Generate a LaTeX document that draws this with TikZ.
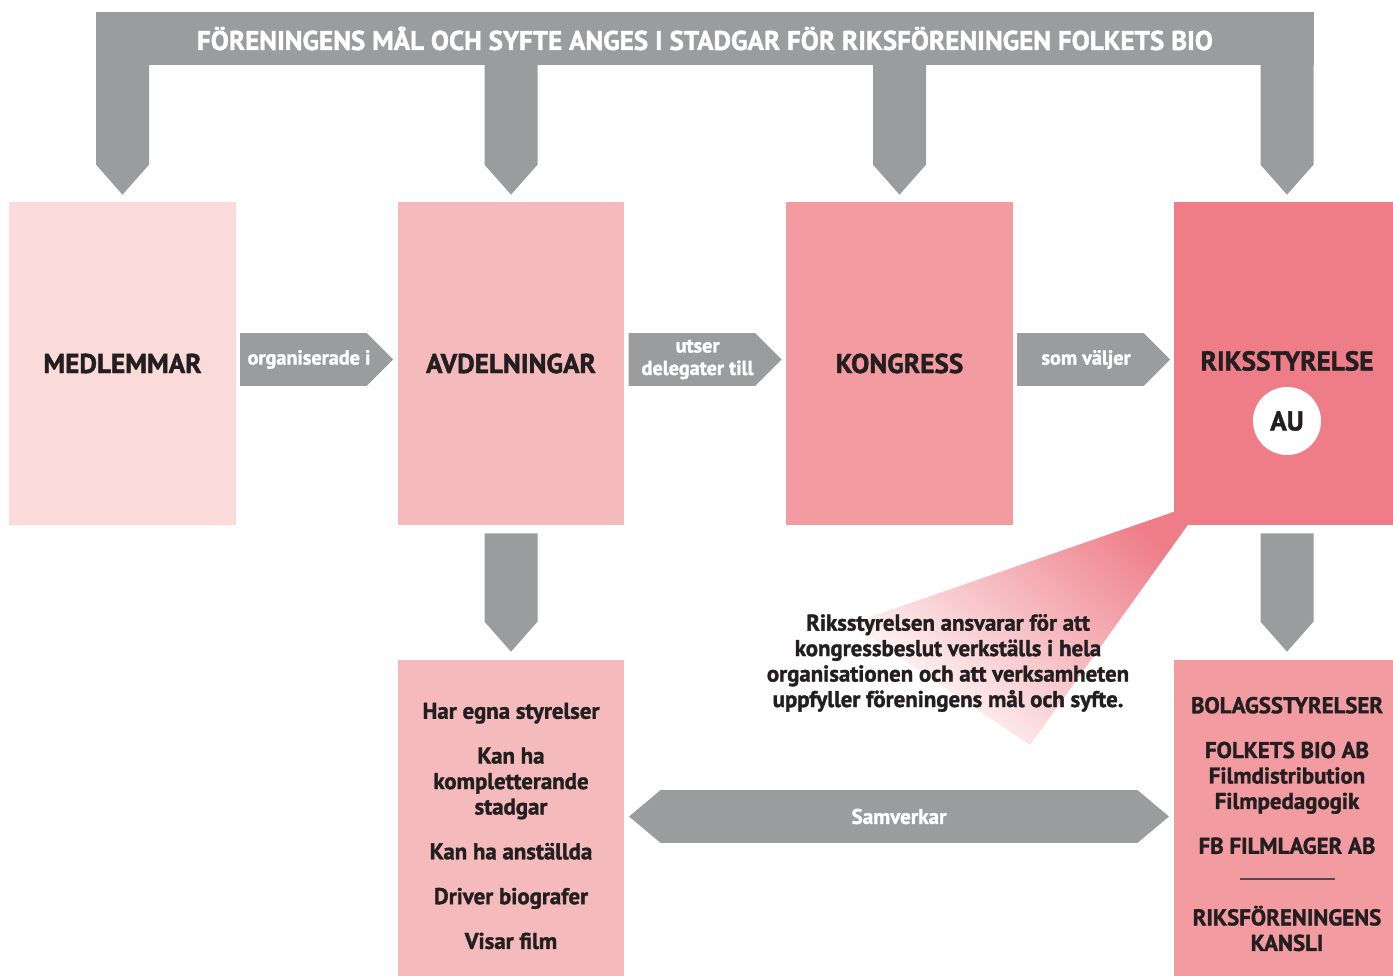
\documentclass[tikz,border=0pt]{standalone}
\usepackage{fontspec}
\setmainfont{PT Sans}[BoldFeatures={FakeBold=1.5}]
\usetikzlibrary{shapes.arrows,calc}
\definecolor{barGray}{HTML}{9B9C9E}
\definecolor{inkDark}{HTML}{231F20}
\definecolor{pinkA}{HTML}{FADBDA}
\definecolor{pinkB}{HTML}{F5BBBC}
\definecolor{pinkC}{HTML}{F29CA1}
\definecolor{pinkD}{HTML}{EE7D88}
\tikzset{
  box/.style={rectangle,minimum width=4.54cm,minimum height=6.46cm,inner sep=0pt,text=inkDark,font=\bfseries\fontsize{15.5}{17}\selectfont},
  lowbox/.style={rectangle,minimum width=4.54cm,minimum height=6.6cm,inner sep=0pt},
  body/.style={text=inkDark,align=center,inner sep=0pt,font=\bfseries\fontsize{13}{14.5}\selectfont},
  flow/.style={single arrow,single arrow head extend=0pt,single arrow tip angle=90,minimum height=3.06cm,minimum width=1.06cm,inner sep=0pt,fill=barGray,anchor=tail},
  flowtext/.style={inner sep=0pt,text=white,align=center,font=\bfseries\fontsize{11.5}{12.8}\selectfont},
}
\begin{document}
\begin{tikzpicture}[x=0.02cm,y=-0.02cm]
\useasboundingbox (0,0) rectangle (1393,976);
\node[fill=barGray,minimum width=24.36cm,minimum height=1.06cm,inner sep=0pt,text=white,font=\bfseries\fontsize{15.4}{17}\selectfont,name=bar] at (705,38.5){FÖRENINGENS MÅL OCH SYFTE ANGES I STADGAR FÖR RIKSFÖRENINGEN FOLKETS BIO};
\shade[top color=pinkD,bottom color=white,shading angle=-42] (1205,501) -- (850,624) -- (1030,745) -- cycle;
\foreach \n/\c/\x/\t in {medl/pinkA/122.5/MEDLEMMAR,avd/pinkB/511/AVDELNINGAR,kong/pinkC/899.5/KONGRESS,riks/pinkD/1287/{}}{
	\node[box,fill=\c,name=\n] at (\x,363.5){\t};
	\fill[barGray] ($(\n.north |- bar.south)+(-26.5,-2)$) -- ($(\n.north |- bar.south)+(26.5,-2)$) -- ($(\n.north)+(26.5,-37)$) -- ($(\n.north)+(0,-7)$) -- ($(\n.north)+(-26.5,-37)$) -- cycle;
};
\node[box,name=rikstext] at ($(riks.center)+(0,-2.5)$){RIKSSTYRELSE};
\node[circle,fill=white,minimum size=1.36cm,inner sep=0pt,text=inkDark,font=\bfseries\fontsize{15.5}{17}\selectfont,name=au] at ($(riks.center)+(0,57.5)$){AU};
\foreach \a/\n/\t in {medl/org/{organiserade i},avd/utser/{utser\\delegater till},kong/val/{som väljer}}{
	\node[flow,name=\n] at ($(\a.east)+(3.5,-4)$){};
	\node[flowtext] at ($(\n.tail)!0.45!(\n.tip)$){\t};
};
\node[lowbox,fill=pinkB,name=avdl] at (511,825){};
\node[lowbox,fill=pinkC,name=riksl] at (1287,825){};
\foreach \a/\b in {avd/avdl,riks/riksl}{
	\fill[barGray] ($(\a.south)+(-26.5,8)$) -- ($(\a.south)+(26.5,8)$) -- ($(\b.north)+(26.5,-38)$) -- ($(\b.north)+(0,-8)$) -- ($(\b.north)+(-26.5,-38)$) -- cycle;
};
\node[double arrow,double arrow head extend=0pt,double arrow tip angle=80,minimum height=10.8cm,minimum width=1.06cm,inner sep=0pt,fill=barGray,text=white,font=\bfseries\fontsize{12}{13}\selectfont,name=samv] at ($(avdl.east)!0.5!(riksl.west)+(0,-8.5)$){Samverkar};
\node[body,name=ansvar] at (948,663){Riksstyrelsen ansvarar för att\\kongressbeslut verkställs i hela\\organisationen och att verksamheten\\uppfyller föreningens mål och syfte.};
\node[body,name=avdtext] at (511,826){Har egna styrelser\\[11pt]Kan ha\\kompletterande\\stadgar\\[11pt]Kan ha anställda\\[11pt]Driver biografer\\[11pt]Visar film};
\node[body,name=bolag] at (1287,775.5){BOLAGSSTYRELSER\\[11pt]FOLKETS BIO AB\\Filmdistribution\\Filmpedagogik\\[11pt]FB FILMLAGER AB};
\draw[inkDark!80,line width=1pt] (1240,879) -- (1335,879);
\node[body,name=kansli] at (1287,928.5){RIKSFÖRENINGENS\\KANSLI};
\end{tikzpicture}
\end{document}
